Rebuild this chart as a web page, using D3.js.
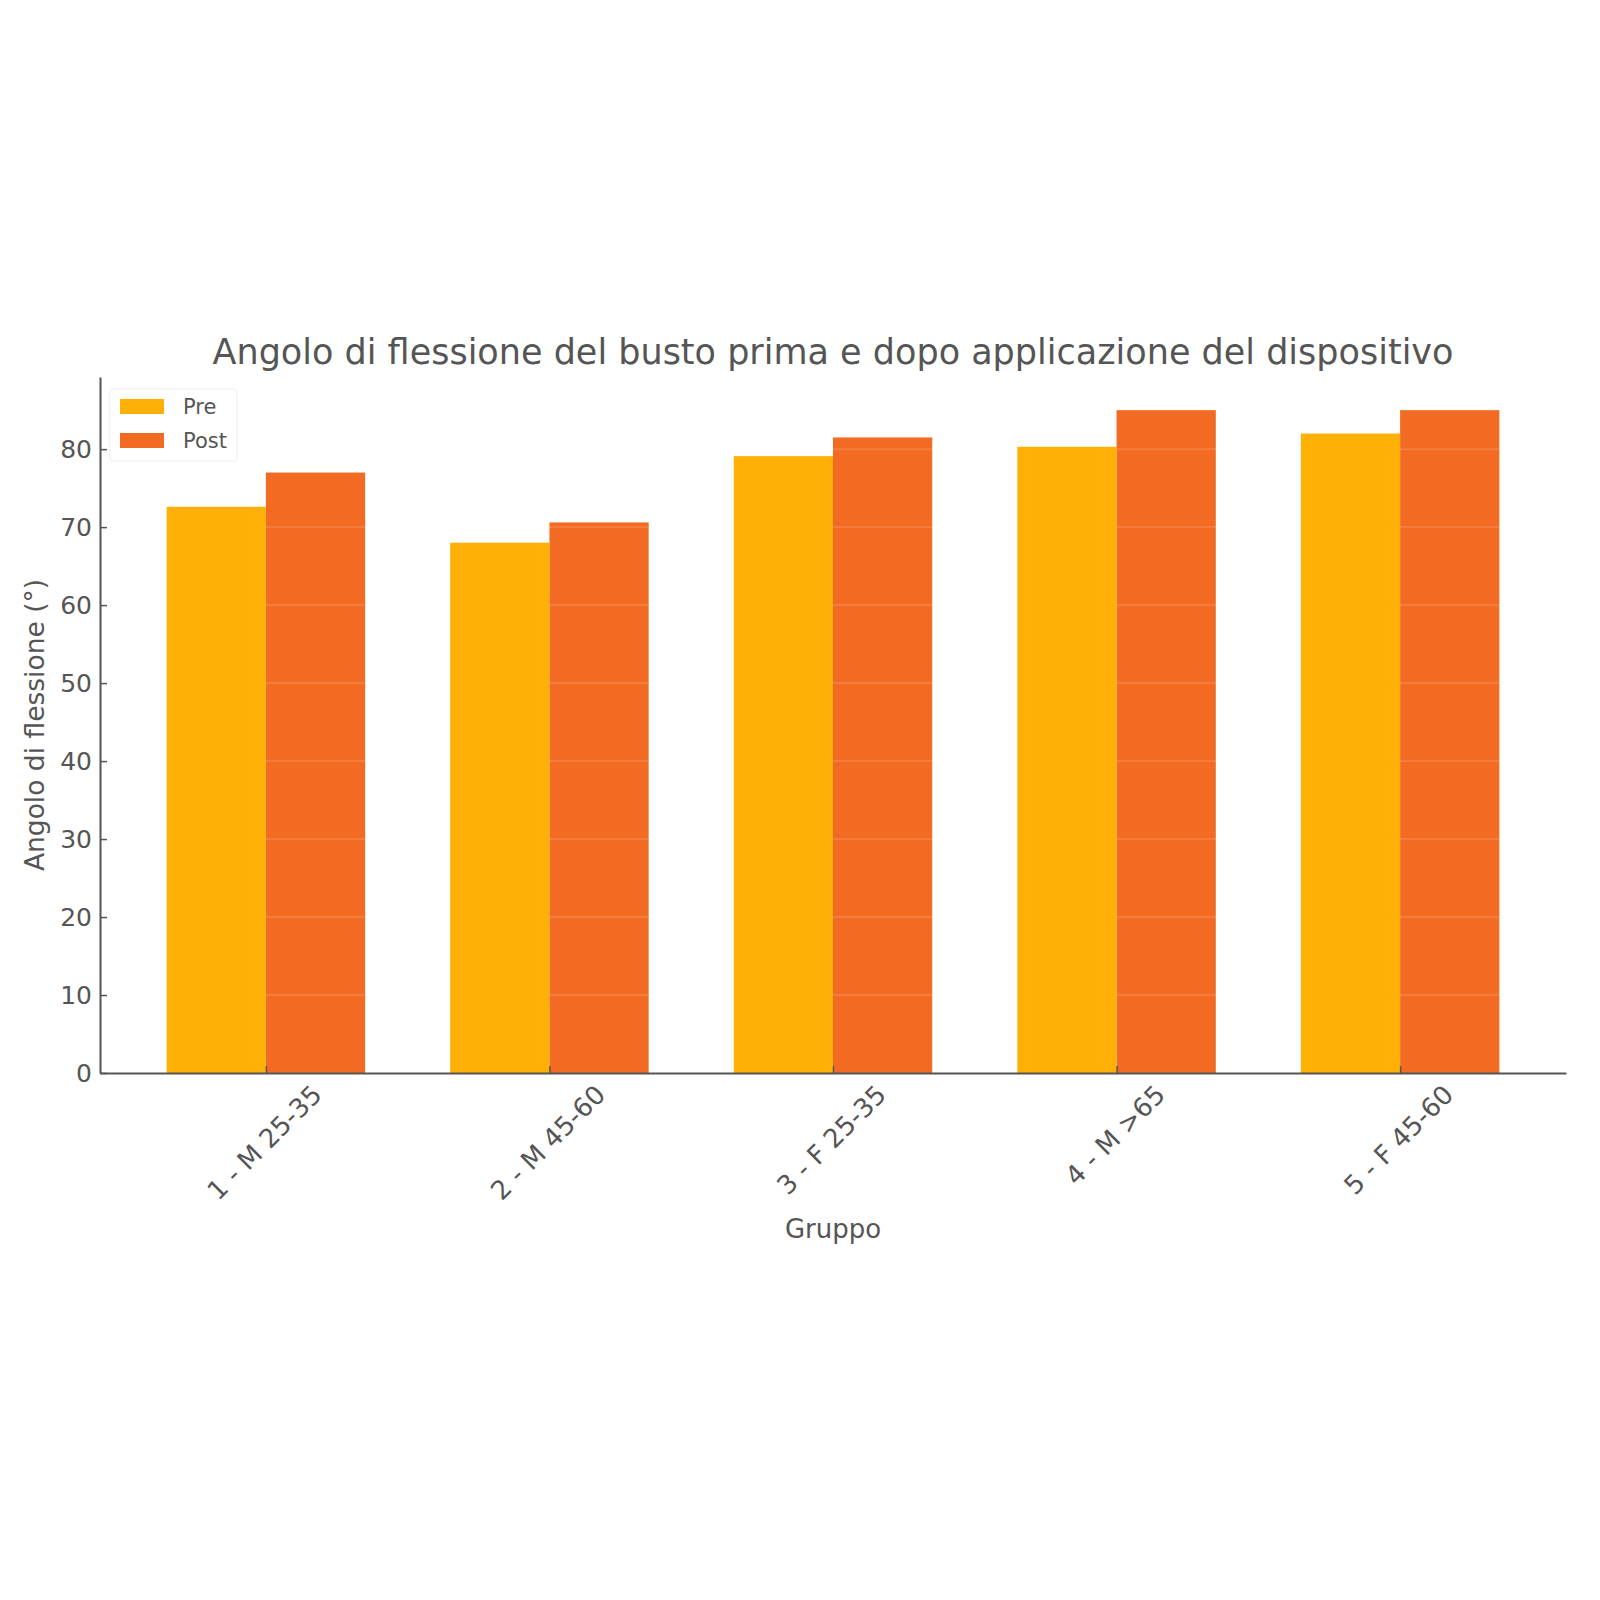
<!DOCTYPE html>
<html><head><meta charset="utf-8">
<script src="https://cdn.jsdelivr.net/npm/d3@7/dist/d3.min.js"></script>
<style>html,body{margin:0;padding:0;background:#fff;} text{font-family:"DejaVu Sans",sans-serif;}</style>
</head><body>
<svg id="c" width="1600" height="1600"></svg>
<script>
const groups = ["1 - M 25-35","2 - M 45-60","3 - F 25-35","4 - M >65","5 - F 45-60"];
const preValues = [72.6, 68.0, 79.1, 80.3, 82.0];
const postValues = [77.0, 70.6, 81.5, 85.0, 85.0];
const seriesNames = ["Pre","Post"];
const yTicks = [0,10,20,30,40,50,60,70,80];
const titleText = "Angolo di flessione del busto prima e dopo applicazione del dispositivo";
const xLabelText = "Gruppo";
const yLabelText = "Angolo di flessione (°)";

const colors = {Pre:"#FFB007", Post:"#F36A22"};
const textColor = "#555555";
const L=100, R=1566, T=377, B=1073;
const barW = 0.35;

const svg = d3.select("#c");
const idx = groups.map((d,i)=>i);
const x = d3.scaleLinear().domain([-0.585, 4.585]).range([L,R]);
const y = d3.scaleLinear().domain([0, 89.25]).range([B,T]);
const bw = x(barW)-x(0);

// post bars first
svg.append("g").selectAll("rect").data(postValues).join("rect")
  .attr("x",(d,i)=>x(i)).attr("width",bw)
  .attr("y",d=>y(d)).attr("height",d=>y(0)-y(d))
  .attr("fill",colors.Post);
// grid
svg.append("g").selectAll("line").data(yTicks.slice(1)).join("line")
  .attr("x1",L).attr("x2",R).attr("y1",d=>y(d)).attr("y2",d=>y(d))
  .attr("stroke","#ffffff").attr("stroke-opacity",0.13).attr("stroke-width",2);
// pre bars
svg.append("g").selectAll("rect").data(preValues).join("rect")
  .attr("x",(d,i)=>x(i)-bw).attr("width",bw)
  .attr("y",d=>y(d)).attr("height",d=>y(0)-y(d))
  .attr("fill",colors.Pre);

// y axis
const ya = svg.append("g").attr("transform",`translate(${L},0)`)
  .call(d3.axisLeft(y).tickValues(yTicks).tickFormat(d3.format("d")).tickSizeInner(-7).tickSizeOuter(0).tickPadding(8));
ya.select(".domain").attr("stroke",textColor).attr("stroke-width",2);
ya.selectAll(".tick line").attr("stroke",textColor).attr("stroke-width",1.5);
ya.selectAll(".tick text").attr("fill",textColor).style("font-size","25px").style("font-family","DejaVu Sans");

// x axis
const xa = svg.append("g").attr("transform",`translate(0,${B})`)
  .call(d3.axisBottom(x).tickValues(idx).tickFormat(i=>groups[i]).tickSizeInner(-7).tickSizeOuter(0));
xa.select(".domain").attr("stroke",textColor).attr("stroke-width",2);
xa.selectAll(".tick line").attr("stroke",textColor).attr("stroke-width",1.5);
xa.selectAll(".tick text").attr("fill",textColor).style("font-size","26px").style("font-family","DejaVu Sans")
  .attr("dy",null).attr("text-anchor","middle").attr("dominant-baseline","central")
  .each(function(){
    const bb=this.getBBox();
    const h=(bb.width+bb.height*0.75)/Math.SQRT2;
    d3.select(this).attr("transform",`translate(-2,${9+h/2}) rotate(-45)`).attr("y",0);
  });

// title and labels
svg.append("text").attr("x",(L+R)/2).attr("y",352).attr("text-anchor","middle").attr("dominant-baseline","central")
  .attr("fill",textColor).style("font-size","35px").text(titleText);
svg.append("text").attr("x",(L+R)/2).attr("y",1229).attr("text-anchor","middle").attr("dominant-baseline","central")
  .attr("fill",textColor).style("font-size","26px").text(xLabelText);
svg.append("text").attr("transform",`translate(34,${(T+B)/2}) rotate(-90)`).attr("text-anchor","middle").attr("dominant-baseline","central")
  .attr("fill",textColor).style("font-size","26.5px").text(yLabelText);

// legend
const lg = svg.append("g");
lg.append("rect").attr("x",110).attr("y",389).attr("width",127).attr("height",72).attr("rx",4)
  .attr("fill","#fff").attr("fill-opacity",0.8).attr("stroke","#eeeeee").attr("stroke-width",1.2);
seriesNames.forEach((s,i)=>{
  lg.append("rect").attr("x",120).attr("y",399+i*34).attr("width",44).attr("height",15).attr("fill",colors[s]);
  lg.append("text").attr("x",183).attr("y",407+i*34).attr("dominant-baseline","central")
    .attr("fill",textColor).style("font-size","21px").text(s);
});
</script>
</body></html>
